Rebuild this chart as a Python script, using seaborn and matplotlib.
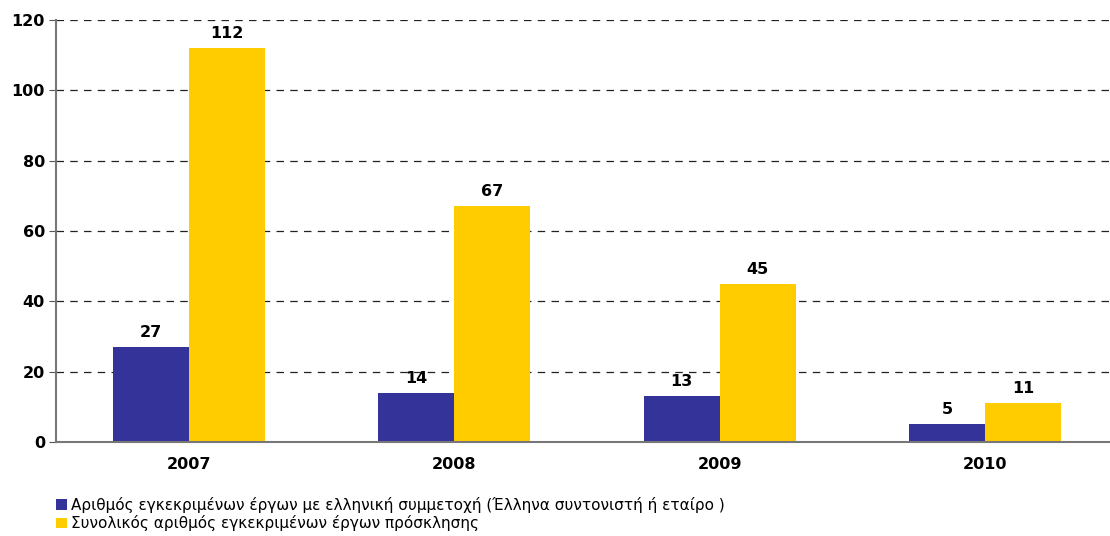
import matplotlib
matplotlib.use("Agg")
import matplotlib.pyplot as plt
import seaborn as sns
import pandas as pd
from matplotlib.patches import Patch

years = ["2007", "2008", "2009", "2010"]
greek_projects = [27, 14, 13, 5]
total_projects = [112, 67, 45, 11]
series_names = [
    "Αριθμός εγκεκριμένων έργων με ελληνική συμμετοχή (Έλληνα συντονιστή ή εταίρο )",
    "Συνολικός αριθμός εγκεκριμένων έργων πρόσκλησης",
]
colors = ["#333399", "#FFCC00"]
yticks = [0, 20, 40, 60, 80, 100, 120]

df = pd.DataFrame({
    "year": years * 2,
    "value": greek_projects + total_projects,
    "series": [series_names[0]] * 4 + [series_names[1]] * 4,
})

sns.set_style("white")
plt.rcParams["font.family"] = ["DejaVu Sans"]
plt.rcParams["text.color"] = "black"
plt.rcParams["xtick.color"] = "black"
plt.rcParams["ytick.color"] = "black"

fig = plt.figure(figsize=(11.10, 5.36), dpi=100)
ax = fig.add_axes([56/1110, (536-442)/536, 1062/1110, (442-20)/536])

sns.barplot(data=df, x="year", y="value", hue="series", palette=colors,
            width=0.573, dodge=True, ax=ax, legend=False, saturation=1,
            errorbar=None, linewidth=0)

for cont in ax.containers:
    ax.bar_label(cont, fmt="%d", padding=5, fontsize=11.5, fontweight="bold", color="black")

ax.set_xlim(-0.5, 3.5)
ax.set_ylim(0, 120)
ax.set_yticks(yticks)
ax.set_yticklabels([str(t) for t in yticks], fontsize=11.5, fontweight="bold")
ax.set_xticks(range(4))
ax.set_xticklabels(years, fontsize=11.5, fontweight="bold")
ax.tick_params(axis="x", which="major", length=0, pad=11, labelcolor="black")
ax.set_xticks([0.5, 1.5, 2.5], minor=True)
ax.tick_params(axis="x", which="minor", length=5, direction="out", color="#555555")
ax.tick_params(axis="y", length=5, direction="out", color="#555555", left=True, pad=3,
               labelcolor="black")
ax.set_xlabel("")
ax.set_ylabel("")
ax.yaxis.grid(True, linestyle=(0, (6, 5)), color="#222222", linewidth=0.9)
ax.set_axisbelow(True)
for s in ["top", "right"]:
    ax.spines[s].set_visible(False)
for s in ["left", "bottom"]:
    ax.spines[s].set_color("#777777")
    ax.spines[s].set_linewidth(1.5)

handles = [Patch(facecolor=c, edgecolor="none") for c in colors]
leg = fig.legend(handles, series_names, loc="upper left", bbox_to_anchor=(56/1110, 1 - 497/536),
                 frameon=False, fontsize=11, handlelength=0.7, handleheight=0.7,
                 handletextpad=0.3, labelspacing=0.15, borderaxespad=0, borderpad=0)
for t in leg.get_texts():
    t.set_color("black")

fig.savefig("out.png", dpi=100)
